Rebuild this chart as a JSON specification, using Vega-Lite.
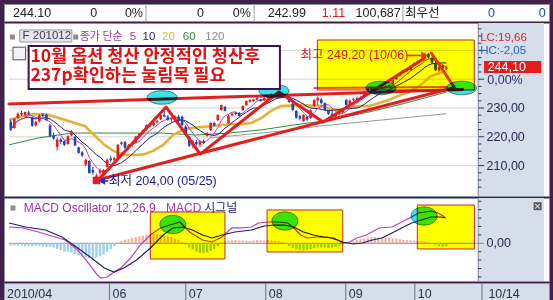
{
  "$schema": "https://vega.github.io/schema/vega-lite/v6.json",
  "background": "#41204B",
  "padding": {"left": 3, "top": 3, "right": 5, "bottom": 3},
  "spacing": 0,
  "config": {
    "view": {"stroke": "#8A92A4", "strokeWidth": 1},
    "axisX": {"disable": true}
  },
  "datasets": {
    "days": [
      {"d":0,"o":225.2,"h":226.0,"l":222.0,"c":222.5,"osc":-0.3},
      {"d":1,"o":223.0,"h":226.5,"l":222.8,"c":226.2,"osc":-0.3},
      {"d":2,"o":226.5,"h":228.5,"l":226.0,"c":228.0,"osc":-0.3},
      {"d":3,"o":228.3,"h":229.0,"l":227.2,"c":227.8,"osc":-0.3},
      {"d":4,"o":227.5,"h":228.8,"l":227.0,"c":228.6,"osc":-0.4},
      {"d":5,"o":228.4,"h":229.0,"l":227.4,"c":227.9,"osc":-0.4},
      {"d":6,"o":226.8,"h":227.0,"l":223.5,"c":223.8,"osc":-0.4},
      {"d":7,"o":224.0,"h":225.6,"l":223.5,"c":225.2,"osc":-0.4},
      {"d":8,"o":225.4,"h":227.8,"l":225.0,"c":227.4,"osc":-0.4},
      {"d":9,"o":227.8,"h":228.2,"l":226.8,"c":227.2,"osc":-0.5},
      {"d":10,"o":227.6,"h":228.0,"l":225.5,"c":225.8,"osc":-0.5},
      {"d":11,"o":224.0,"h":224.5,"l":219.8,"c":220.3,"osc":-0.5},
      {"d":12,"o":220.5,"h":221.5,"l":219.0,"c":219.4,"osc":-0.6},
      {"d":13,"o":216.5,"h":219.8,"l":215.2,"c":219.0,"osc":-0.8},
      {"d":14,"o":219.0,"h":219.6,"l":217.5,"c":218.2,"osc":-1.0},
      {"d":15,"o":218.5,"h":218.8,"l":216.8,"c":217.2,"osc":-1.2},
      {"d":16,"o":217.5,"h":220.5,"l":217.2,"c":220.2,"osc":-1.2},
      {"d":17,"o":220.5,"h":222.3,"l":220.2,"c":222.0,"osc":-1.3},
      {"d":18,"o":220.0,"h":220.3,"l":216.8,"c":217.0,"osc":-1.5},
      {"d":19,"o":216.3,"h":216.6,"l":214.2,"c":214.4,"osc":-1.7},
      {"d":20,"o":214.6,"h":215.0,"l":213.0,"c":213.5,"osc":-1.9},
      {"d":21,"o":210.3,"h":212.4,"l":209.8,"c":212.0,"osc":-2.0},
      {"d":22,"o":211.6,"h":211.9,"l":207.2,"c":207.4,"osc":-2.1},
      {"d":23,"o":208.5,"h":209.5,"l":206.8,"c":207.6,"osc":-2.1},
      {"d":24,"o":205.0,"h":207.2,"l":204.0,"c":206.6,"osc":-2.0},
      {"d":25,"o":207.5,"h":209.0,"l":206.5,"c":208.3,"osc":-1.8},
      {"d":26,"o":207.0,"h":208.8,"l":206.5,"c":208.5,"osc":-1.6},
      {"d":27,"o":209.5,"h":212.5,"l":209.2,"c":212.0,"osc":-1.2},
      {"d":28,"o":212.5,"h":213.5,"l":211.2,"c":211.9,"osc":-0.8},
      {"d":29,"o":212.0,"h":213.0,"l":211.0,"c":212.6,"osc":-0.4},
      {"d":30,"o":212.6,"h":217.5,"l":212.3,"c":217.2,"osc":0.1},
      {"d":31,"o":217.5,"h":218.5,"l":217.0,"c":218.0,"osc":0.3},
      {"d":32,"o":218.2,"h":218.5,"l":215.8,"c":216.2,"osc":0.5},
      {"d":33,"o":216.0,"h":217.5,"l":215.5,"c":217.1,"osc":0.6},
      {"d":34,"o":217.3,"h":218.0,"l":216.5,"c":217.8,"osc":0.8},
      {"d":35,"o":218.0,"h":220.2,"l":217.8,"c":220.0,"osc":0.9},
      {"d":36,"o":220.4,"h":221.3,"l":219.8,"c":221.0,"osc":1.0},
      {"d":37,"o":221.2,"h":222.5,"l":220.8,"c":222.2,"osc":1.1},
      {"d":38,"o":222.5,"h":224.3,"l":222.0,"c":224.0,"osc":1.2},
      {"d":39,"o":224.2,"h":224.8,"l":223.3,"c":223.6,"osc":1.2},
      {"d":40,"o":224.0,"h":225.2,"l":223.6,"c":224.9,"osc":1.3},
      {"d":41,"o":225.0,"h":225.8,"l":224.6,"c":225.5,"osc":1.3},
      {"d":42,"o":226.0,"h":227.8,"l":225.8,"c":227.5,"osc":1.2},
      {"d":43,"o":227.6,"h":229.0,"l":226.9,"c":227.0,"osc":1.1},
      {"d":44,"o":227.0,"h":227.6,"l":225.5,"c":225.9,"osc":1.0},
      {"d":45,"o":226.0,"h":226.8,"l":225.0,"c":226.5,"osc":0.9},
      {"d":46,"o":226.3,"h":227.5,"l":225.8,"c":227.1,"osc":0.7},
      {"d":47,"o":227.0,"h":227.6,"l":225.2,"c":225.6,"osc":0.5},
      {"d":48,"o":227.0,"h":227.4,"l":223.8,"c":224.1,"osc":0.2},
      {"d":49,"o":223.5,"h":224.0,"l":221.0,"c":221.4,"osc":-0.2},
      {"d":50,"o":220.0,"h":220.2,"l":216.5,"c":216.9,"osc":-0.6},
      {"d":51,"o":217.0,"h":218.8,"l":216.0,"c":218.4,"osc":-0.9},
      {"d":52,"o":218.2,"h":218.9,"l":217.0,"c":217.4,"osc":-1.2},
      {"d":53,"o":217.2,"h":218.8,"l":216.5,"c":218.5,"osc":-1.4},
      {"d":54,"o":218.5,"h":219.0,"l":217.5,"c":217.8,"osc":-1.4},
      {"d":55,"o":220.3,"h":221.6,"l":220.0,"c":221.3,"osc":-1.3},
      {"d":56,"o":222.4,"h":225.0,"l":222.0,"c":224.8,"osc":-1.1},
      {"d":57,"o":224.8,"h":225.2,"l":223.6,"c":224.0,"osc":-0.8},
      {"d":58,"o":225.8,"h":227.8,"l":225.5,"c":227.6,"osc":-0.4},
      {"d":59,"o":229.3,"h":231.2,"l":229.0,"c":231.0,"osc":0.1},
      {"d":60,"o":230.4,"h":230.6,"l":228.8,"c":229.0,"osc":0.3},
      {"d":61,"o":224.8,"h":227.6,"l":224.5,"c":227.2,"osc":0.4},
      {"d":62,"o":227.4,"h":228.5,"l":227.0,"c":228.0,"osc":0.4},
      {"d":63,"o":228.3,"h":228.7,"l":227.5,"c":227.9,"osc":0.45},
      {"d":64,"o":228.3,"h":228.6,"l":227.0,"c":227.2,"osc":0.4},
      {"d":65,"o":229.3,"h":230.9,"l":229.0,"c":230.7,"osc":0.35},
      {"d":66,"o":231.0,"h":232.6,"l":230.8,"c":232.4,"osc":0.3},
      {"d":67,"o":232.2,"h":233.0,"l":231.8,"c":232.8,"osc":0.35},
      {"d":68,"o":232.4,"h":233.2,"l":232.2,"c":233.0,"osc":0.4},
      {"d":69,"o":233.4,"h":233.8,"l":232.6,"c":232.9,"osc":0.45},
      {"d":70,"o":233.0,"h":233.2,"l":232.2,"c":232.4,"osc":0.45},
      {"d":71,"o":232.6,"h":233.8,"l":232.4,"c":233.5,"osc":0.4},
      {"d":72,"o":233.5,"h":234.2,"l":233.2,"c":234.0,"osc":0.45},
      {"d":73,"o":234.0,"h":235.0,"l":233.8,"c":234.7,"osc":0.4},
      {"d":74,"o":234.8,"h":235.2,"l":233.8,"c":234.1,"osc":0.35},
      {"d":75,"o":234.0,"h":234.8,"l":233.4,"c":234.6,"osc":0.3},
      {"d":76,"o":234.6,"h":234.9,"l":233.6,"c":233.9,"osc":0.15},
      {"d":77,"o":233.9,"h":235.0,"l":233.8,"c":234.6,"osc":-0.1},
      {"d":78,"o":234.0,"h":234.2,"l":231.8,"c":232.1,"osc":-0.4},
      {"d":79,"o":231.5,"h":231.7,"l":229.0,"c":229.3,"osc":-0.7},
      {"d":80,"o":229.0,"h":229.2,"l":226.3,"c":226.6,"osc":-0.9},
      {"d":81,"o":227.2,"h":227.6,"l":225.8,"c":226.3,"osc":-1.0},
      {"d":82,"o":225.5,"h":227.8,"l":225.2,"c":227.6,"osc":-1.0},
      {"d":83,"o":227.0,"h":227.2,"l":225.5,"c":226.0,"osc":-0.9},
      {"d":84,"o":226.5,"h":229.5,"l":226.2,"c":229.2,"osc":-0.8},
      {"d":85,"o":230.7,"h":233.0,"l":230.4,"c":232.8,"osc":-0.7},
      {"d":86,"o":232.6,"h":234.0,"l":231.0,"c":233.5,"osc":-0.6},
      {"d":87,"o":233.0,"h":233.4,"l":231.2,"c":231.7,"osc":-0.6},
      {"d":88,"o":231.7,"h":232.0,"l":229.0,"c":229.3,"osc":-0.6},
      {"d":89,"o":229.0,"h":229.2,"l":227.6,"c":228.0,"osc":-0.7},
      {"d":90,"o":228.0,"h":229.0,"l":227.0,"c":227.4,"osc":-0.6},
      {"d":91,"o":227.0,"h":228.0,"l":226.8,"c":227.8,"osc":-0.5},
      {"d":92,"o":227.8,"h":229.0,"l":227.5,"c":228.7,"osc":-0.35},
      {"d":93,"o":228.5,"h":229.4,"l":228.0,"c":229.1,"osc":-0.2},
      {"d":94,"o":232.8,"h":233.2,"l":230.8,"c":231.0,"osc":-0.1},
      {"d":95,"o":231.3,"h":233.0,"l":231.2,"c":232.6,"osc":0.1},
      {"d":96,"o":232.8,"h":233.6,"l":232.4,"c":233.2,"osc":0.3},
      {"d":97,"o":233.4,"h":234.0,"l":232.8,"c":233.0,"osc":0.5},
      {"d":98,"o":233.0,"h":234.0,"l":232.8,"c":233.7,"osc":0.6},
      {"d":99,"o":234.0,"h":236.0,"l":233.8,"c":235.8,"osc":0.7},
      {"d":100,"o":236.0,"h":237.2,"l":235.8,"c":236.9,"osc":0.8},
      {"d":101,"o":237.2,"h":237.4,"l":236.2,"c":236.5,"osc":0.85},
      {"d":102,"o":236.5,"h":237.3,"l":236.2,"c":237.1,"osc":0.9},
      {"d":103,"o":237.3,"h":237.5,"l":236.4,"c":236.7,"osc":0.85},
      {"d":104,"o":236.7,"h":237.4,"l":236.5,"c":237.2,"osc":0.85},
      {"d":105,"o":237.1,"h":237.8,"l":236.8,"c":237.6,"osc":0.8},
      {"d":106,"o":237.6,"h":238.2,"l":237.2,"c":237.9,"osc":0.8},
      {"d":107,"o":238.5,"h":240.0,"l":238.3,"c":239.7,"osc":0.75},
      {"d":108,"o":240.0,"h":241.3,"l":239.8,"c":241.0,"osc":0.7},
      {"d":109,"o":241.2,"h":242.4,"l":241.0,"c":242.2,"osc":0.6},
      {"d":110,"o":242.4,"h":243.4,"l":242.0,"c":243.1,"osc":0.5},
      {"d":111,"o":243.3,"h":243.8,"l":242.5,"c":242.9,"osc":0.45},
      {"d":112,"o":243.2,"h":244.8,"l":243.0,"c":244.6,"osc":0.4},
      {"d":113,"o":245.0,"h":245.8,"l":244.6,"c":245.6,"osc":0.4},
      {"d":114,"o":245.8,"h":246.6,"l":245.2,"c":246.3,"osc":0.35},
      {"d":115,"o":246.4,"h":247.2,"l":246.0,"c":246.9,"osc":0.3},
      {"d":116,"o":247.2,"h":249.2,"l":247.0,"c":248.6,"osc":0.25},
      {"d":117,"o":248.8,"h":249.0,"l":247.2,"c":247.6,"osc":0.15},
      {"d":118,"o":247.4,"h":247.8,"l":245.4,"c":245.8,"osc":-0.05},
      {"d":119,"o":245.6,"h":246.4,"l":242.8,"c":243.2,"osc":-0.25},
      {"d":120,"o":243.0,"h":244.6,"l":242.6,"c":244.2,"osc":-0.4},
      {"d":121,"o":244.5,"h":245.0,"l":243.4,"c":243.8,"osc":-0.5},
      {"d":122,"o":243.6,"h":244.6,"l":243.2,"c":244.1,"osc":-0.45}
    ],
    "ma": [
      {"n":"20","d":-0.5,"p":225.8},{"n":"20","d":3.35,"p":227.2},{"n":"20","d":6.9,"p":227.9},{"n":"20","d":10.5,"p":227.6},
      {"n":"20","d":14.4,"p":226.2},{"n":"20","d":17.9,"p":224.8},{"n":"20","d":20.7,"p":223.75},{"n":"20","d":23.4,"p":220.6},
      {"n":"20","d":26.2,"p":217.2},{"n":"20","d":28.8,"p":215.1},{"n":"20","d":31.7,"p":213.7},{"n":"20","d":34.4,"p":213.7},
      {"n":"20","d":37.2,"p":213.9},{"n":"20","d":39.9,"p":215.1},{"n":"20","d":42.7,"p":217.2},{"n":"20","d":45.4,"p":220.6},
      {"n":"20","d":48.2,"p":222.4},{"n":"20","d":50.9,"p":223.1},{"n":"20","d":53.7,"p":223.4},{"n":"20","d":56.4,"p":223.75},
      {"n":"20","d":59.2,"p":224.1},{"n":"20","d":61.9,"p":224.4},{"n":"20","d":64.7,"p":224.4},{"n":"20","d":67.4,"p":224.8},
      {"n":"20","d":70.2,"p":226.5},{"n":"20","d":72.9,"p":229.0},{"n":"20","d":75.7,"p":230.7},{"n":"20","d":81.2,"p":231.0},
      {"n":"20","d":86.7,"p":230.7},{"n":"20","d":89.4,"p":229.7},{"n":"20","d":92.2,"p":229.3},{"n":"20","d":94.9,"p":230.0},
      {"n":"20","d":97.7,"p":230.7},{"n":"20","d":100.4,"p":230.7},{"n":"20","d":103.2,"p":231.7},{"n":"20","d":105.9,"p":232.8},
      {"n":"20","d":108.7,"p":234.2},{"n":"20","d":111.4,"p":235.5},{"n":"20","d":114.2,"p":237.4},{"n":"20","d":117.8,"p":241.1},
      {"n":"20","d":122,"p":242.9},
      {"n":"60","d":-0.5,"p":217.2},{"n":"60","d":7.75,"p":219.6},{"n":"60","d":17.1,"p":221.3},{"n":"60","d":26.2,"p":221.3},
      {"n":"60","d":35.3,"p":221.3},{"n":"60","d":42.7,"p":221.3},{"n":"60","d":51.8,"p":220.6},{"n":"60","d":61.1,"p":221.3},
      {"n":"60","d":70.2,"p":222.4},{"n":"60","d":79.3,"p":224.1},{"n":"60","d":89.4,"p":225.8},{"n":"60","d":100,"p":228.5},
      {"n":"60","d":110,"p":231.5},{"n":"60","d":122,"p":235.5},
      {"n":"120","d":56,"p":219.6},{"n":"120","d":75.7,"p":222.0},{"n":"120","d":86.7,"p":223.75},{"n":"120","d":122,"p":228.0}
    ],
    "macd": [
      {"s":"MACD","d":-0.5,"v":2.33},{"s":"MACD","d":3.35,"v":2.19},{"s":"MACD","d":7.75,"v":1.61},{"s":"MACD","d":12.4,"v":0.9},
      {"s":"MACD","d":15.2,"v":0.47},{"s":"MACD","d":18.75,"v":-0.96},{"s":"MACD","d":21.5,"v":-2.67},{"s":"MACD","d":24.25,"v":-4.53},
      {"s":"MACD","d":25.35,"v":-4.96},{"s":"MACD","d":27.0,"v":-4.81},{"s":"MACD","d":28.9,"v":-4.1},{"s":"MACD","d":30.8,"v":-3.53},
      {"s":"MACD","d":33.6,"v":-2.1},{"s":"MACD","d":36.3,"v":-0.24},{"s":"MACD","d":39.1,"v":1.19},{"s":"MACD","d":41.9,"v":2.19},
      {"s":"MACD","d":44.6,"v":2.61},{"s":"MACD","d":47.4,"v":3.04},{"s":"MACD","d":50.1,"v":1.61},{"s":"MACD","d":53.7,"v":0.47},
      {"s":"MACD","d":56.4,"v":0.19},{"s":"MACD","d":59.2,"v":0.9},{"s":"MACD","d":61.9,"v":2.19},{"s":"MACD","d":64.7,"v":2.19},
      {"s":"MACD","d":67.4,"v":2.33},{"s":"MACD","d":69.4,"v":2.9},{"s":"MACD","d":72.1,"v":3.04},{"s":"MACD","d":74.9,"v":3.04},
      {"s":"MACD","d":77.6,"v":2.9},{"s":"MACD","d":79.3,"v":2.19},{"s":"MACD","d":81.2,"v":1.19},{"s":"MACD","d":83.1,"v":0.76},
      {"s":"MACD","d":85.9,"v":0.9},{"s":"MACD","d":88.6,"v":0.9},{"s":"MACD","d":91.4,"v":0.47},{"s":"MACD","d":93.0,"v":0.04},
      {"s":"MACD","d":94.9,"v":0.19},{"s":"MACD","d":96.9,"v":0.76},{"s":"MACD","d":99.6,"v":1.19},{"s":"MACD","d":103.2,"v":2.19},
      {"s":"MACD","d":106.8,"v":2.33},{"s":"MACD","d":110.6,"v":3.33},{"s":"MACD","d":112.3,"v":3.76},{"s":"MACD","d":114.2,"v":4.33},
      {"s":"MACD","d":116.1,"v":4.47},{"s":"MACD","d":117.8,"v":4.61},{"s":"MACD","d":119.7,"v":4.33},{"s":"MACD","d":121.6,"v":3.76},
      {"s":"시그널","d":-0.5,"v":2.9},{"s":"시그널","d":4.2,"v":2.33},{"s":"시그널","d":9.7,"v":1.9},{"s":"시그널","d":14.35,"v":0.9},
      {"s":"시그널","d":18.75,"v":-0.67},{"s":"시그널","d":22.6,"v":-2.1},{"s":"시그널","d":26.2,"v":-3.53},{"s":"시그널","d":28.9,"v":-4.1},
      {"s":"시그널","d":31.7,"v":-3.53},{"s":"시그널","d":35.25,"v":-2.39},{"s":"시그널","d":39.1,"v":-0.67},{"s":"시그널","d":42.7,"v":1.19},
      {"s":"시그널","d":45.4,"v":2.19},{"s":"시그널","d":48.2,"v":2.33},{"s":"시그널","d":50.9,"v":1.9},{"s":"시그널","d":53.7,"v":1.19},
      {"s":"시그널","d":56.4,"v":0.76},{"s":"시그널","d":59.2,"v":1.19},{"s":"시그널","d":62.8,"v":1.61},{"s":"시그널","d":67.4,"v":1.9},
      {"s":"시그널","d":71.0,"v":2.47},{"s":"시그널","d":73.8,"v":2.61},{"s":"시그널","d":76.5,"v":2.61},{"s":"시그널","d":79.3,"v":2.33},
      {"s":"시그널","d":82.0,"v":1.61},{"s":"시그널","d":84.8,"v":1.19},{"s":"시그널","d":87.5,"v":0.9},{"s":"시그널","d":90.3,"v":0.76},
      {"s":"시그널","d":93.0,"v":0.19},{"s":"시그널","d":95.8,"v":-0.1},{"s":"시그널","d":98.5,"v":0.04},{"s":"시그널","d":101.3,"v":0.47},
      {"s":"시그널","d":104.0,"v":0.76},{"s":"시그널","d":106.8,"v":1.47},{"s":"시그널","d":109.5,"v":2.19},{"s":"시그널","d":112.3,"v":2.9},
      {"s":"시그널","d":115.0,"v":3.33},{"s":"시그널","d":117.8,"v":3.76},{"s":"시그널","d":120.5,"v":3.76},{"s":"시그널","d":121.9,"v":3.61}
    ],
    "trend": [
      {"id":"저항","d":-0.5,"p":231.39},{"id":"저항","d":126.56,"p":236.42},
      {"id":"지지","d":24.25,"p":205.0},{"id":"지지","d":123.8,"p":236.94},
      {"id":"파동","d":24.8,"p":205.35},{"id":"파동","d":43.5,"p":230.35},{"id":"파동","d":53.1,"p":214.0},
      {"id":"파동","d":75.1,"p":235.56},{"id":"파동","d":87.5,"p":225.14},{"id":"파동","d":115.6,"p":247.0}
    ],
    "pink": [
      {"id":"투영","d":117.8,"p":249.1},{"id":"투영","d":124.4,"p":236.94},
      {"id":"수평","d":84.8,"p":236.94},{"id":"수평","d":122.4,"p":237.3}
    ],
    "arrow": [
      {"id":"최고","d":110.9,"p":248.23},{"id":"최고","d":115.3,"p":248.23},
      {"id":"최저","d":25.9,"p":204.65},{"id":"최저","d":27.3,"p":204.65}
    ],
    "heads": [
      {"id":"최고","d":115.9,"p":248.23},
      {"id":"최저","d":25.5,"p":204.65}
    ],
    "extremes": [
      {"id":"최고","t":"최고 249,20 (10/06)","d":81.2,"p":248.4},
      {"id":"최저","t":"최저 204,00 (05/25)","d":27.5,"p":204.65}
    ],
    "grid": [{"p":210},{"p":220},{"p":230},{"p":240},{"p":250}],
    "yLabMain": [{"p":210,"t":"210,00"},{"p":220,"t":"220,00"},{"p":230,"t":"230,00"}],
    "minorMain": [
      {"p":202.5},{"p":205},{"p":207.5},{"p":212.5},{"p":215},{"p":217.5},{"p":222.5},{"p":225},{"p":227.5},
      {"p":232.5},{"p":235},{"p":237.5},{"p":242.5},{"p":245},{"p":247.5},{"p":252.5},{"p":255},{"p":257.5}
    ],
    "minorMacd": [{"v":-4.8},{"v":-3.6},{"v":-2.4},{"v":-1.2},{"v":1.2},{"v":2.4},{"v":3.6},{"v":4.8},{"v":6.0}],
    "boxMain": [{"d":85.9,"d2":129.86,"p":236.25,"p2":253.61}],
    "ellMain": [{"d":42.4,"p":233.65},{"d":73.76,"p":235.9},{"d":103.7,"p":236.94},{"d":126.3,"p":236.94}],
    "boxMacd": [
      {"d":39.1,"d2":60.0,"v":-2.24,"v2":4.47},
      {"d":71.8,"d2":93.0,"v":-1.24,"v2":4.76},
      {"d":113.9,"d2":129.9,"v":-0.81,"v2":5.47}
    ],
    "ellMacd": [{"d":45.4,"v":2.69},{"d":76.8,"v":3.19},{"d":115.8,"v":3.9}],
    "memo": [
      {"t":["10월 옵션 청산 안정적인 청산후", "237p확인하는 눌림목 필요"],"d":5.5,"p":247.6}
    ],
    "memoBox": [{"d":5.0,"d2":75.4,"p":236.6,"p2":251.53}],
    "maKey": [{"n":"5","d":33.3},{"n":"10","d":36.9},{"n":"20","d":42.4},{"n":"60","d":48.2},{"n":"120","d":54.5}],
    "quote": [
      {"k":"LC","t":"LC:19,66","d":131.5,"p":254.45},
      {"k":"HC","t":"HC:-2,05","d":131.5,"p":249.8}
    ],
    "headerLeft": [
      {"t":"244.10","col":1.65,"k":"기본"},
      {"t":"최우선","col":73.6,"k":"기본"}
    ],
    "headerRight": [
      {"t":"0","col":17.1,"k":"기본"},{"t":"0%","col":25.5,"k":"기본"},
      {"t":"0","col":36.7,"k":"기본"},{"t":"0%","col":45.3,"k":"기본"},
      {"t":"242.99","col":55.4,"k":"기본"},{"t":"1.11","col":62.6,"k":"상승"},
      {"t":"100,687","col":72.8,"k":"기본"},
      {"t":"0","col":90.1,"k":"호가"},{"t":"0","col":99.4,"k":"호가"}
    ],
    "headerSep": [{"col":26.05},{"col":45.9},{"col":73.2}],
    "monthSep": [{"d":28.5},{"d":49.5},{"d":71.5},{"d":93.5},{"d":112.5},{"d":130.96}],
    "monthLab": [
      {"t":"2010/04","d":-0.5},{"t":"06","d":28.5},{"t":"07","d":49.5},{"t":"08","d":71.5},
      {"t":"09","d":93.5},{"t":"10","d":112.5},{"t":"10/14","d":131.9}
    ]
  },
  "vconcat": [
    {
      "width": 545,
      "height": 17,
      "view": {"fill": "#FFFFFF", "stroke": "#8A92A4"},
      "layer": [
        {
          "data": {"name": "headerSep"},
          "mark": {"type": "rule", "color": "#9AA0B0"},
          "encoding": {"x": {"field": "col", "type": "quantitative", "scale": {"domain": [0, 100], "nice": false, "zero": false}}}
        },
        {
          "data": {"name": "headerLeft"},
          "mark": {"type": "text", "align": "left", "baseline": "middle", "fontSize": 12.5, "font": "Liberation Sans, Noto Sans CJK KR"},
          "encoding": {
            "x": {"field": "col", "type": "quantitative", "scale": {"domain": [0, 100], "nice": false, "zero": false}},
            "text": {"field": "t"},
            "color": {"field": "k", "type": "nominal", "scale": {"domain": ["기본", "상승", "호가"], "range": ["#202028", "#D42020", "#2040C8"]}, "legend": null}
          }
        },
        {
          "data": {"name": "headerRight"},
          "mark": {"type": "text", "align": "right", "baseline": "middle", "fontSize": 12.5, "font": "Liberation Sans, Noto Sans CJK KR"},
          "encoding": {
            "x": {"field": "col", "type": "quantitative", "scale": {"domain": [0, 100], "nice": false, "zero": false}},
            "text": {"field": "t"},
            "color": {"field": "k", "type": "nominal", "scale": {"domain": ["기본", "상승", "호가"], "range": ["#202028", "#D42020", "#2040C8"]}, "legend": null}
          }
        }
      ]
    },
    {
      "width": 545,
      "height": 173,
      "view": {"fill": "#FFFFFF", "stroke": "#8A92A4"},
      "layer": [
        {
          "data": {"values": [{}]},
          "mark": {"type": "rect", "fill": "#D5DEEA"},
          "encoding": {
            "x": {"datum": 130.96, "type": "quantitative", "scale": {"domain": [-0.5, 149.39], "nice": false, "zero": false}},
            "x2": {"datum": 149.39}
          }
        },
        {
          "data": {"values": [{}]},
          "mark": {"type": "rule", "color": "#7C8496"},
          "encoding": {
            "x": {"datum": 130.96, "type": "quantitative", "scale": {"domain": [-0.5, 149.39], "nice": false, "zero": false}}
          }
        },
        {
          "data": {"name": "grid"},
          "mark": {"type": "rule", "color": "#D4D4D4"},
          "encoding": {
            "x": {"datum": -0.5, "type": "quantitative", "scale": {"domain": [-0.5, 149.39], "nice": false, "zero": false}},
            "x2": {"datum": 130.96},
            "y": {"field": "p", "type": "quantitative", "scale": {"domain": [199.44, 259.51], "nice": false, "zero": false}, "axis": null}
          }
        },
        {
          "data": {"name": "grid"},
          "mark": {"type": "rule", "color": "#303848"},
          "encoding": {
            "x": {"datum": 130.96, "type": "quantitative", "scale": {"domain": [-0.5, 149.39], "nice": false, "zero": false}},
            "x2": {"datum": 132.6},
            "y": {"field": "p", "type": "quantitative", "scale": {"domain": [199.44, 259.51], "nice": false, "zero": false}, "axis": null}
          }
        },
        {
          "data": {"name": "minorMain"},
          "mark": {"type": "rule", "color": "#303848"},
          "encoding": {
            "x": {"datum": 130.96, "type": "quantitative", "scale": {"domain": [-0.5, 149.39], "nice": false, "zero": false}},
            "x2": {"datum": 131.85},
            "y": {"field": "p", "type": "quantitative", "scale": {"domain": [199.44, 259.51], "nice": false, "zero": false}, "axis": null}
          }
        },
        {
          "data": {"name": "yLabMain"},
          "mark": {"type": "text", "align": "left", "baseline": "middle", "fontSize": 12.5, "font": "Liberation Sans", "color": "#232A50"},
          "encoding": {
            "x": {"datum": 133.3, "type": "quantitative", "scale": {"domain": [-0.5, 149.39], "nice": false, "zero": false}},
            "y": {"field": "p", "type": "quantitative", "scale": {"domain": [199.44, 259.51], "nice": false, "zero": false}, "axis": null},
            "text": {"field": "t"}
          }
        },
        {
          "data": {"name": "ma"},
          "transform": [{"filter": "datum.n !== '20'"}],
          "mark": {"type": "line", "strokeWidth": 1},
          "encoding": {
            "x": {"field": "d", "type": "quantitative", "scale": {"domain": [-0.5, 149.39], "nice": false, "zero": false}},
            "y": {"field": "p", "type": "quantitative", "scale": {"domain": [199.44, 259.51], "nice": false, "zero": false}, "axis": null},
            "stroke": {"field": "n", "type": "nominal", "scale": {"domain": ["5", "10", "20", "60", "120"], "range": ["#C23CC0", "#1E1E6E", "#E2B23A", "#2E8E3E", "#9A9A9A"]}, "legend": null}
          }
        },
        {
          "data": {"name": "ma"},
          "transform": [{"filter": "datum.n === '20'"}],
          "mark": {"type": "line", "strokeWidth": 2.6},
          "encoding": {
            "x": {"field": "d", "type": "quantitative", "scale": {"domain": [-0.5, 149.39], "nice": false, "zero": false}},
            "y": {"field": "p", "type": "quantitative", "scale": {"domain": [199.44, 259.51], "nice": false, "zero": false}, "axis": null},
            "stroke": {"field": "n", "type": "nominal", "scale": {"domain": ["5", "10", "20", "60", "120"], "range": ["#C23CC0", "#1E1E6E", "#E2B23A", "#2E8E3E", "#9A9A9A"]}, "legend": null}
          }
        },
        {
          "data": {"name": "days"},
          "transform": [{"window": [{"op": "mean", "field": "c", "as": "ma"}], "frame": [-9, 0], "sort": [{"field": "d"}]}],
          "mark": {"type": "line", "strokeWidth": 1},
          "encoding": {
            "x": {"field": "d", "type": "quantitative", "scale": {"domain": [-0.5, 149.39], "nice": false, "zero": false}},
            "y": {"field": "ma", "type": "quantitative", "scale": {"domain": [199.44, 259.51], "nice": false, "zero": false}, "axis": null},
            "stroke": {"datum": "10", "type": "nominal", "scale": {"domain": ["5", "10", "20", "60", "120"], "range": ["#C23CC0", "#1E1E6E", "#E2B23A", "#2E8E3E", "#9A9A9A"]}, "legend": null}
          }
        },
        {
          "data": {"name": "days"},
          "transform": [{"window": [{"op": "mean", "field": "c", "as": "ma"}], "frame": [-4, 0], "sort": [{"field": "d"}]}],
          "mark": {"type": "line", "strokeWidth": 1},
          "encoding": {
            "x": {"field": "d", "type": "quantitative", "scale": {"domain": [-0.5, 149.39], "nice": false, "zero": false}},
            "y": {"field": "ma", "type": "quantitative", "scale": {"domain": [199.44, 259.51], "nice": false, "zero": false}, "axis": null},
            "stroke": {"datum": "5", "type": "nominal", "scale": {"domain": ["5", "10", "20", "60", "120"], "range": ["#C23CC0", "#1E1E6E", "#E2B23A", "#2E8E3E", "#9A9A9A"]}, "legend": null}
          }
        },
        {
          "data": {"name": "days"},
          "mark": {"type": "rule", "strokeWidth": 1},
          "encoding": {
            "x": {"field": "d", "type": "quantitative", "scale": {"domain": [-0.5, 149.39], "nice": false, "zero": false}},
            "y": {"field": "l", "type": "quantitative", "scale": {"domain": [199.44, 259.51], "nice": false, "zero": false}, "axis": null},
            "y2": {"field": "h"},
            "color": {"condition": {"test": "datum.c >= datum.o", "value": "#E41B1B"}, "value": "#1E44C6"}
          }
        },
        {
          "data": {"name": "days"},
          "mark": {"type": "bar", "width": 2.6},
          "encoding": {
            "x": {"field": "d", "type": "quantitative", "scale": {"domain": [-0.5, 149.39], "nice": false, "zero": false}},
            "y": {"field": "o", "type": "quantitative", "scale": {"domain": [199.44, 259.51], "nice": false, "zero": false}, "axis": null},
            "y2": {"field": "c"},
            "color": {"condition": {"test": "datum.c >= datum.o", "value": "#E41B1B"}, "value": "#1E44C6"}
          }
        },
        {
          "data": {"name": "trend"},
          "mark": {"type": "line", "color": "#E41E1E", "strokeWidth": 3, "strokeCap": "round", "strokeJoin": "round"},
          "encoding": {
            "x": {"field": "d", "type": "quantitative", "scale": {"domain": [-0.5, 149.39], "nice": false, "zero": false}},
            "y": {"field": "p", "type": "quantitative", "scale": {"domain": [199.44, 259.51], "nice": false, "zero": false}, "axis": null},
            "detail": {"field": "id"}
          }
        },
        {
          "data": {"name": "pink"},
          "transform": [{"filter": "datum.id === '투영'"}],
          "mark": {"type": "line", "color": "#E438C8", "strokeWidth": 3, "strokeCap": "round"},
          "encoding": {
            "x": {"field": "d", "type": "quantitative", "scale": {"domain": [-0.5, 149.39], "nice": false, "zero": false}},
            "y": {"field": "p", "type": "quantitative", "scale": {"domain": [199.44, 259.51], "nice": false, "zero": false}, "axis": null}
          }
        },
        {
          "data": {"name": "pink"},
          "transform": [{"filter": "datum.id === '수평'"}],
          "mark": {"type": "line", "color": "#F04CC8", "strokeWidth": 2},
          "encoding": {
            "x": {"field": "d", "type": "quantitative", "scale": {"domain": [-0.5, 149.39], "nice": false, "zero": false}},
            "y": {"field": "p", "type": "quantitative", "scale": {"domain": [199.44, 259.51], "nice": false, "zero": false}, "axis": null}
          }
        },
        {
          "data": {"name": "arrow"},
          "mark": {"type": "line", "strokeWidth": 1.6},
          "encoding": {
            "x": {"field": "d", "type": "quantitative", "scale": {"domain": [-0.5, 149.39], "nice": false, "zero": false}},
            "y": {"field": "p", "type": "quantitative", "scale": {"domain": [199.44, 259.51], "nice": false, "zero": false}, "axis": null},
            "detail": {"field": "id"},
            "color": {"condition": {"test": "datum.id === '최고'", "value": "#E438C8"}, "value": "#1A2AD8"}
          }
        },
        {
          "data": {"values": [{}]},
          "mark": {"type": "point", "shape": "square", "filled": true, "size": 56, "opacity": 1, "color": "#E41B1B"},
          "encoding": {
            "x": {"datum": 24.0, "type": "quantitative", "scale": {"domain": [-0.5, 149.39], "nice": false, "zero": false}},
            "y": {"datum": 204.83, "type": "quantitative", "scale": {"domain": [199.44, 259.51], "nice": false, "zero": false}, "axis": null}
          }
        },
        {
          "data": {"name": "heads"},
          "mark": {"type": "point", "filled": true, "size": 60, "opacity": 1},
          "encoding": {
            "x": {"field": "d", "type": "quantitative", "scale": {"domain": [-0.5, 149.39], "nice": false, "zero": false}},
            "y": {"field": "p", "type": "quantitative", "scale": {"domain": [199.44, 259.51], "nice": false, "zero": false}, "axis": null},
            "shape": {"condition": {"test": "datum.id === '최고'", "value": "triangle-right"}, "value": "triangle-left"},
            "color": {"condition": {"test": "datum.id === '최고'", "value": "#E438C8"}, "value": "#1A2AD8"}
          }
        },
        {
          "data": {"name": "extremes"},
          "mark": {"type": "text", "align": "left", "baseline": "middle", "fontSize": 12.5, "font": "Liberation Sans, Noto Sans CJK KR"},
          "encoding": {
            "x": {"field": "d", "type": "quantitative", "scale": {"domain": [-0.5, 149.39], "nice": false, "zero": false}},
            "y": {"field": "p", "type": "quantitative", "scale": {"domain": [199.44, 259.51], "nice": false, "zero": false}, "axis": null},
            "text": {"field": "t"},
            "color": {"condition": {"test": "datum.id === '최고'", "value": "#DC1C1C"}, "value": "#1C2290"}
          }
        },
        {
          "data": {"name": "boxMain"},
          "mark": {"type": "rect", "fill": "#FFFF00", "stroke": "#C42828", "strokeWidth": 1, "blend": "multiply"},
          "encoding": {
            "x": {"field": "d", "type": "quantitative", "scale": {"domain": [-0.5, 149.39], "nice": false, "zero": false}},
            "x2": {"field": "d2"},
            "y": {"field": "p", "type": "quantitative", "scale": {"domain": [199.44, 259.51], "nice": false, "zero": false}, "axis": null},
            "y2": {"field": "p2"}
          }
        },
        {
          "data": {"name": "ellMain"},
          "mark": {
            "type": "point", "filled": true, "opacity": 1, "size": 900, "blend": "multiply",
            "shape": "M-1,0C-1,-0.25,-0.55,-0.45,0,-0.45C0.55,-0.45,1,-0.25,1,0C1,0.25,0.55,0.45,0,0.45C-0.55,0.45,-1,0.25,-1,0Z",
            "fill": "#38E4EC", "stroke": "#3C5A5A", "strokeWidth": 0.8
          },
          "encoding": {
            "x": {"field": "d", "type": "quantitative", "scale": {"domain": [-0.5, 149.39], "nice": false, "zero": false}},
            "y": {"field": "p", "type": "quantitative", "scale": {"domain": [199.44, 259.51], "nice": false, "zero": false}, "axis": null}
          }
        },
        {
          "data": {"name": "memoBox"},
          "mark": {"type": "rect", "fill": "#FFFFFF", "stroke": "#3A1450", "strokeWidth": 2},
          "encoding": {
            "x": {"field": "d", "type": "quantitative", "scale": {"domain": [-0.5, 149.39], "nice": false, "zero": false}},
            "x2": {"field": "d2"},
            "y": {"field": "p", "type": "quantitative", "scale": {"domain": [199.44, 259.51], "nice": false, "zero": false}, "axis": null},
            "y2": {"field": "p2"}
          }
        },
        {
          "data": {"name": "memo"},
          "mark": {"type": "text", "align": "left", "baseline": "middle", "lineHeight": 19, "fontSize": 17.5, "fontWeight": "bold", "font": "Noto Sans CJK KR", "color": "#E41010"},
          "encoding": {
            "x": {"field": "d", "type": "quantitative", "scale": {"domain": [-0.5, 149.39], "nice": false, "zero": false}},
            "y": {"field": "p", "type": "quantitative", "scale": {"domain": [199.44, 259.51], "nice": false, "zero": false}, "axis": null},
            "text": {"field": "t"}
          }
        },
        {
          "data": {"values": [{}]},
          "mark": {"type": "point", "shape": "square", "filled": true, "size": 160, "opacity": 1, "fill": "#F2F2F8", "stroke": "#505062", "strokeWidth": 1},
          "encoding": {
            "x": {"datum": 2.39, "type": "quantitative", "scale": {"domain": [-0.5, 149.39], "nice": false, "zero": false}},
            "y": {"datum": 248.92, "type": "quantitative", "scale": {"domain": [199.44, 259.51], "nice": false, "zero": false}, "axis": null}
          }
        },
        {
          "data": {"values": [{}]},
          "mark": {"type": "rect", "fill": "#E6E6EC", "stroke": "#9A9AA6", "strokeWidth": 1},
          "encoding": {
            "x": {"datum": 2.5, "type": "quantitative", "scale": {"domain": [-0.5, 149.39], "nice": false, "zero": false}},
            "x2": {"datum": 17.1},
            "y": {"datum": 252.9, "type": "quantitative", "scale": {"domain": [199.44, 259.51], "nice": false, "zero": false}, "axis": null},
            "y2": {"datum": 257.1}
          }
        },
        {
          "data": {"values": [{"d": 0.46}, {"d": 18.2}]},
          "mark": {"type": "point", "shape": "square", "filled": true, "size": 25, "opacity": 1, "color": "#8C8C94"},
          "encoding": {
            "x": {"field": "d", "type": "quantitative", "scale": {"domain": [-0.5, 149.39], "nice": false, "zero": false}},
            "y": {"datum": 254.65, "type": "quantitative", "scale": {"domain": [199.44, 259.51], "nice": false, "zero": false}, "axis": null}
          }
        },
        {
          "data": {"values": [{"t": "F 201012"}]},
          "mark": {"type": "text", "align": "left", "baseline": "middle", "fontSize": 11.5, "font": "Liberation Sans", "color": "#3C3C4C"},
          "encoding": {
            "x": {"datum": 3.3, "type": "quantitative", "scale": {"domain": [-0.5, 149.39], "nice": false, "zero": false}},
            "y": {"datum": 254.9, "type": "quantitative", "scale": {"domain": [199.44, 259.51], "nice": false, "zero": false}, "axis": null},
            "text": {"field": "t"}
          }
        },
        {
          "data": {"values": [{"t": "종가 단순"}]},
          "mark": {"type": "text", "align": "left", "baseline": "middle", "fontSize": 11, "font": "Noto Sans CJK KR", "color": "#A33BA8"},
          "encoding": {
            "x": {"datum": 19.3, "type": "quantitative", "scale": {"domain": [-0.5, 149.39], "nice": false, "zero": false}},
            "y": {"datum": 254.65, "type": "quantitative", "scale": {"domain": [199.44, 259.51], "nice": false, "zero": false}, "axis": null},
            "text": {"field": "t"}
          }
        },
        {
          "data": {"name": "maKey"},
          "mark": {"type": "text", "align": "left", "baseline": "middle", "fontSize": 11.5, "font": "Liberation Sans"},
          "encoding": {
            "x": {"field": "d", "type": "quantitative", "scale": {"domain": [-0.5, 149.39], "nice": false, "zero": false}},
            "y": {"datum": 254.65, "type": "quantitative", "scale": {"domain": [199.44, 259.51], "nice": false, "zero": false}, "axis": null},
            "text": {"field": "n"},
            "fill": {"field": "n", "type": "nominal", "scale": {"domain": ["5", "10", "20", "60", "120"], "range": ["#A33BA8", "#1E1E6E", "#E0B832", "#2E8E3E", "#8A8A8A"]}, "legend": null}
          }
        },
        {
          "data": {"name": "quote"},
          "mark": {"type": "text", "align": "left", "baseline": "middle", "fontSize": 11.5, "font": "Liberation Sans"},
          "encoding": {
            "x": {"field": "d", "type": "quantitative", "scale": {"domain": [-0.5, 149.39], "nice": false, "zero": false}},
            "y": {"field": "p", "type": "quantitative", "scale": {"domain": [199.44, 259.51], "nice": false, "zero": false}, "axis": null},
            "text": {"field": "t"},
            "color": {"condition": {"test": "datum.k === 'LC'", "value": "#D02828"}, "value": "#2860C0"}
          }
        },
        {
          "data": {"values": [{}]},
          "mark": {"type": "rect", "fill": "#E41C1C"},
          "encoding": {
            "x": {"datum": 132.6, "type": "quantitative", "scale": {"domain": [-0.5, 149.39], "nice": false, "zero": false}},
            "x2": {"datum": 148.6},
            "y": {"datum": 242.15, "type": "quantitative", "scale": {"domain": [199.44, 259.51], "nice": false, "zero": false}, "axis": null},
            "y2": {"datum": 246.32}
          }
        },
        {
          "data": {"values": [{"t": "244,10"}]},
          "mark": {"type": "text", "align": "left", "baseline": "middle", "fontSize": 12.5, "font": "Liberation Sans", "color": "#FFFFFF"},
          "encoding": {
            "x": {"datum": 133.6, "type": "quantitative", "scale": {"domain": [-0.5, 149.39], "nice": false, "zero": false}},
            "y": {"datum": 244.24, "type": "quantitative", "scale": {"domain": [199.44, 259.51], "nice": false, "zero": false}, "axis": null},
            "text": {"field": "t"}
          }
        },
        {
          "data": {"values": [{"t": "0,00%"}]},
          "mark": {"type": "text", "align": "left", "baseline": "middle", "fontSize": 12.5, "font": "Liberation Sans", "color": "#26307A"},
          "encoding": {
            "x": {"datum": 133.5, "type": "quantitative", "scale": {"domain": [-0.5, 149.39], "nice": false, "zero": false}},
            "y": {"datum": 239.72, "type": "quantitative", "scale": {"domain": [199.44, 259.51], "nice": false, "zero": false}, "axis": null},
            "text": {"field": "t"}
          }
        }
      ]
    },
    {
      "width": 545,
      "height": 83,
      "view": {"fill": "#FFFFFF", "stroke": "#8A92A4"},
      "layer": [
        {
          "data": {"values": [{}]},
          "mark": {"type": "rect", "fill": "#D5DEEA"},
          "encoding": {
            "x": {"datum": 130.96, "type": "quantitative", "scale": {"domain": [-0.5, 149.39], "nice": false, "zero": false}},
            "x2": {"datum": 149.39}
          }
        },
        {
          "data": {"values": [{}]},
          "mark": {"type": "rule", "color": "#7C8496"},
          "encoding": {
            "x": {"datum": 130.96, "type": "quantitative", "scale": {"domain": [-0.5, 149.39], "nice": false, "zero": false}}
          }
        },
        {
          "data": {"values": [{"v": 0}]},
          "mark": {"type": "rule", "color": "#8A8A8A"},
          "encoding": {
            "x": {"datum": -0.5, "type": "quantitative", "scale": {"domain": [-0.5, 149.39], "nice": false, "zero": false}},
            "x2": {"datum": 132.6},
            "y": {"field": "v", "type": "quantitative", "scale": {"domain": [-5.386, 6.471], "nice": false, "zero": false}, "axis": null}
          }
        },
        {
          "data": {"name": "minorMacd"},
          "mark": {"type": "rule", "color": "#303848"},
          "encoding": {
            "x": {"datum": 130.96, "type": "quantitative", "scale": {"domain": [-0.5, 149.39], "nice": false, "zero": false}},
            "x2": {"datum": 131.85},
            "y": {"field": "v", "type": "quantitative", "scale": {"domain": [-5.386, 6.471], "nice": false, "zero": false}, "axis": null}
          }
        },
        {
          "data": {"values": [{"v": 0, "t": "0,00"}]},
          "mark": {"type": "text", "align": "left", "baseline": "middle", "fontSize": 12.5, "font": "Liberation Sans", "color": "#232A50"},
          "encoding": {
            "x": {"datum": 133.3, "type": "quantitative", "scale": {"domain": [-0.5, 149.39], "nice": false, "zero": false}},
            "y": {"field": "v", "type": "quantitative", "scale": {"domain": [-5.386, 6.471], "nice": false, "zero": false}, "axis": null},
            "text": {"field": "t"}
          }
        },
        {
          "data": {"name": "days"},
          "mark": {"type": "bar", "width": 2.4},
          "encoding": {
            "x": {"field": "d", "type": "quantitative", "scale": {"domain": [-0.5, 149.39], "nice": false, "zero": false}},
            "y": {"field": "osc", "type": "quantitative", "scale": {"domain": [-5.386, 6.471], "nice": false, "zero": false}, "axis": null},
            "y2": {"datum": 0},
            "color": {"condition": {"test": "datum.osc >= 0", "value": "#F2B6A4"}, "value": "#9ED0EE"}
          }
        },
        {
          "data": {"name": "macd"},
          "mark": {"type": "line", "strokeWidth": 1.2},
          "encoding": {
            "x": {"field": "d", "type": "quantitative", "scale": {"domain": [-0.5, 149.39], "nice": false, "zero": false}},
            "y": {"field": "v", "type": "quantitative", "scale": {"domain": [-5.386, 6.471], "nice": false, "zero": false}, "axis": null},
            "stroke": {"field": "s", "type": "nominal", "scale": {"domain": ["MACD", "시그널"], "range": ["#E28A52", "#5E1A6A"]}, "legend": null}
          }
        },
        {
          "data": {"name": "boxMacd"},
          "mark": {"type": "rect", "fill": "#FFFF00", "stroke": "#C42828", "strokeWidth": 1, "blend": "multiply"},
          "encoding": {
            "x": {"field": "d", "type": "quantitative", "scale": {"domain": [-0.5, 149.39], "nice": false, "zero": false}},
            "x2": {"field": "d2"},
            "y": {"field": "v", "type": "quantitative", "scale": {"domain": [-5.386, 6.471], "nice": false, "zero": false}, "axis": null},
            "y2": {"field": "v2"}
          }
        },
        {
          "data": {"name": "ellMacd"},
          "mark": {
            "type": "point", "filled": true, "opacity": 1, "size": 676, "blend": "multiply",
            "shape": "M-1,0C-1,-0.386,-0.552,-0.7,0,-0.7C0.552,-0.7,1,-0.386,1,0C1,0.386,0.552,0.7,0,0.7C-0.552,0.7,-1,0.386,-1,0Z",
            "fill": "#38E4EC", "stroke": "#3C5A5A", "strokeWidth": 0.8
          },
          "encoding": {
            "x": {"field": "d", "type": "quantitative", "scale": {"domain": [-0.5, 149.39], "nice": false, "zero": false}},
            "y": {"field": "v", "type": "quantitative", "scale": {"domain": [-5.386, 6.471], "nice": false, "zero": false}, "axis": null}
          }
        },
        {
          "data": {"values": [{}]},
          "mark": {"type": "point", "shape": "square", "filled": true, "size": 25, "opacity": 1, "color": "#8C8C94"},
          "encoding": {
            "x": {"datum": 0.6, "type": "quantitative", "scale": {"domain": [-0.5, 149.39], "nice": false, "zero": false}},
            "y": {"datum": 5.04, "type": "quantitative", "scale": {"domain": [-5.386, 6.471], "nice": false, "zero": false}, "axis": null}
          }
        },
        {
          "data": {"values": [{"t": "MACD Oscillator 12,26,9"}]},
          "mark": {"type": "text", "align": "left", "baseline": "middle", "fontSize": 12, "font": "Liberation Sans", "color": "#A52CA8"},
          "encoding": {
            "x": {"datum": 3.6, "type": "quantitative", "scale": {"domain": [-0.5, 149.39], "nice": false, "zero": false}},
            "y": {"datum": 5.04, "type": "quantitative", "scale": {"domain": [-5.386, 6.471], "nice": false, "zero": false}, "axis": null},
            "text": {"field": "t"}
          }
        },
        {
          "data": {"values": [{"s": "MACD", "d": 43.5}, {"s": "시그널", "d": 54.2}]},
          "mark": {"type": "text", "align": "left", "baseline": "middle", "fontSize": 12, "font": "Liberation Sans, Noto Sans CJK KR"},
          "encoding": {
            "x": {"field": "d", "type": "quantitative", "scale": {"domain": [-0.5, 149.39], "nice": false, "zero": false}},
            "y": {"datum": 5.04, "type": "quantitative", "scale": {"domain": [-5.386, 6.471], "nice": false, "zero": false}, "axis": null},
            "text": {"field": "s"},
            "fill": {"field": "s", "type": "nominal", "scale": {"domain": ["MACD", "시그널"], "range": ["#D0783A", "#6A2A8A"]}, "legend": null}
          }
        },
        {
          "data": {"values": [{}]},
          "mark": {"type": "point", "shape": "square", "filled": true, "size": 64, "opacity": 1, "color": "#5A5A5A"},
          "encoding": {
            "x": {"datum": 147.6, "type": "quantitative", "scale": {"domain": [-0.5, 149.39], "nice": false, "zero": false}},
            "y": {"datum": 5.3, "type": "quantitative", "scale": {"domain": [-5.386, 6.471], "nice": false, "zero": false}, "axis": null}
          }
        },
        {
          "data": {"values": [{"t": "×"}]},
          "mark": {"type": "text", "align": "center", "baseline": "middle", "fontSize": 9, "font": "DejaVu Sans", "color": "#FFFFFF"},
          "encoding": {
            "x": {"datum": 147.6, "type": "quantitative", "scale": {"domain": [-0.5, 149.39], "nice": false, "zero": false}},
            "y": {"datum": 5.3, "type": "quantitative", "scale": {"domain": [-5.386, 6.471], "nice": false, "zero": false}, "axis": null},
            "text": {"field": "t"}
          }
        }
      ]
    },
    {
      "width": 545,
      "height": 21,
      "view": {"fill": "#D5DEEA", "stroke": "#8A92A4"},
      "layer": [
        {
          "data": {"name": "monthSep"},
          "mark": {"type": "rule", "color": "#6A7282"},
          "encoding": {"x": {"field": "d", "type": "quantitative", "scale": {"domain": [-0.5, 149.39], "nice": false, "zero": false}}}
        },
        {
          "data": {"name": "monthLab"},
          "mark": {"type": "text", "align": "left", "baseline": "middle", "dx": 3, "fontSize": 12.5, "font": "Liberation Sans", "color": "#26304A"},
          "encoding": {
            "x": {"field": "d", "type": "quantitative", "scale": {"domain": [-0.5, 149.39], "nice": false, "zero": false}},
            "text": {"field": "t"}
          }
        }
      ]
    }
  ]
}
